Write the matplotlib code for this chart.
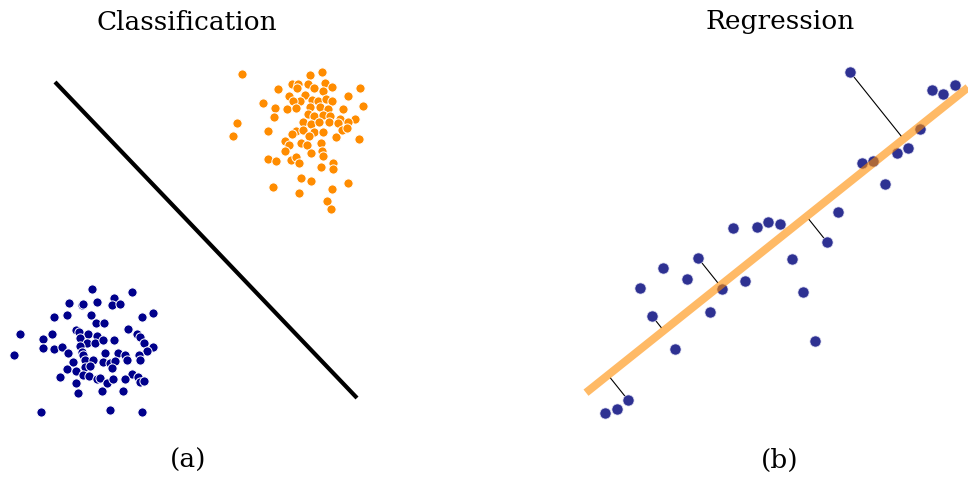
import numpy as np
import matplotlib.pyplot as plt

# --- данные: координаты точек (x вправо, y вниз) ---

# класс 1 (оранжевый)
orange_x = [242, 310, 322, 278, 292, 298, 308, 297, 314, 325, 332, 323, 360, 289, 305,
            300, 293, 263, 275, 287, 296, 312, 318, 326, 332, 348, 363, 310, 320, 328,
            343, 274, 308, 314, 323, 330, 340, 355, 237, 303, 311, 319, 329, 338, 348,
            268, 296, 303, 314, 323, 342, 347, 233, 292, 309, 336, 359, 285, 289, 301,
            307, 321, 285, 311, 322, 323, 268, 276, 291, 296, 299, 321, 333, 333, 301,
            311, 273, 299, 332, 348, 327, 331]
orange_y = [74, 75, 72, 89, 84, 84, 84, 88, 88, 83, 87, 91, 88, 96, 95,
            101, 101, 103, 108, 109, 108, 100, 101, 99, 101, 96, 106, 107, 107, 109,
            109, 117, 114, 116, 115, 116, 119, 119, 123, 122, 124, 122, 122, 123, 122,
            131, 131, 130, 132, 132, 130, 128, 136, 134, 136, 137, 139, 141, 145, 143,
            145, 143, 151, 153, 151, 156, 159, 161, 160, 157, 163, 167, 163, 169, 178,
            181, 187, 193, 189, 183, 201, 209]

# класс 2 (синий)
blue_x = [92, 132, 114, 69, 82, 83, 97, 112, 120, 54, 67, 91, 142, 153, 96,
          104, 20, 52, 43, 76, 79, 88, 97, 80, 87, 95, 103, 114, 128, 137,
          140, 144, 153, 147, 43, 54, 62, 68, 80, 82, 83, 105, 118, 125, 127,
          139, 140, 14, 73, 85, 93, 103, 110, 115, 67, 76, 85, 90, 112, 132,
          138, 60, 83, 89, 97, 100, 107, 113, 125, 140, 144, 76, 102, 123, 78,
          41, 110, 142]
blue_y = [289, 292, 298, 303, 305, 304, 302, 305, 304, 317, 315, 315, 317, 313, 323,
          323, 334, 334, 339, 330, 332, 334, 336, 338, 343, 343, 340, 340, 329, 334,
          337, 343, 347, 351, 348, 349, 347, 353, 346, 352, 355, 353, 353, 355, 360,
          355, 360, 355, 362, 360, 360, 362, 363, 361, 369, 371, 367, 366, 368, 374,
          377, 377, 375, 376, 379, 378, 383, 379, 379, 382, 381, 383, 391, 391, 393,
          412, 410, 412]

# разделяющая прямая
sep_x = [55, 357]
sep_y = [82, 398]

# точки для регрессии
reg_x = [850, 932, 943, 955, 920, 908, 897, 873, 862, 885, 838, 827, 780, 768, 757,
         733, 792, 803, 815, 745, 722, 710, 698, 687, 663, 640, 652, 675, 628, 617, 605]
reg_y = [72, 90, 94, 85, 129, 148, 153, 161, 163, 184, 212, 242, 224, 222, 227,
         228, 259, 292, 341, 281, 289, 312, 258, 279, 268, 288, 316, 349, 400, 409, 413]
# номера точек, для которых рисуется остаток
resid_idx = [0, 11, 22, 26, 28]

# линия регрессии y = b0 + b1 * (x - 586)
b0 = 392.7
b1 = -0.799
line_x = np.array([586, 968])

fig = plt.figure(figsize=(9.68, 4.78), dpi=100)
ax1 = fig.add_axes([0, 0, 0.5, 1])
ax2 = fig.add_axes([0.5, 0, 0.5, 1])
ax1.set_xlim(0, 484)
ax2.set_xlim(484, 968)
for ax in (ax1, ax2):
    ax.set_ylim(478, 0)
    ax.axis('off')

# (a) классификация
ax1.plot(sep_x, sep_y, color='black', linewidth=3, solid_capstyle='butt')
ax1.scatter(orange_x, orange_y, s=44, color='darkorange', edgecolors='white', linewidths=0.7, zorder=3)
ax1.scatter(blue_x, blue_y, s=44, color='darkblue', edgecolors='white', linewidths=0.7, zorder=3)

# (b) регрессия
lw_px = 8
norm = np.hypot(1, b1)
for i in resid_idx:
    px, py = reg_x[i], reg_y[i]
    d = (py - (b0 + b1 * (px - 586))) / norm  # расстояние до прямой (со знаком)
    nx, ny = -b1 / norm, 1 / norm               # единичная нормаль
    k = abs(d) - lw_px / 2
    s = -np.sign(d)
    ax2.plot([px, px + s * nx * k], [py, py + s * ny * k], color='black', linewidth=0.8, zorder=2)

ax2.scatter(reg_x, reg_y, s=64, color='#2e3192', edgecolors='#dcdcf0', linewidths=0.5, zorder=3)
ax2.plot(line_x, b0 + b1 * (line_x - 586), color='darkorange', alpha=0.6,
         linewidth=lw_px * 72 / 100, solid_capstyle='butt', zorder=4)

# подписи
font = dict(family='DejaVu Serif', fontsize=19, ha='center', va='center')
fig.text(187 / 968, 1 - 22 / 478, 'Classification', **font)
fig.text(780 / 968, 1 - 22 / 478, 'Regression', **font)
fig.text(188 / 968, 1 - 460 / 478, '(a)', **font)
fig.text(780 / 968, 1 - 460 / 478, '(b)', **font)

fig.savefig('out.png', dpi=100, facecolor='white')
